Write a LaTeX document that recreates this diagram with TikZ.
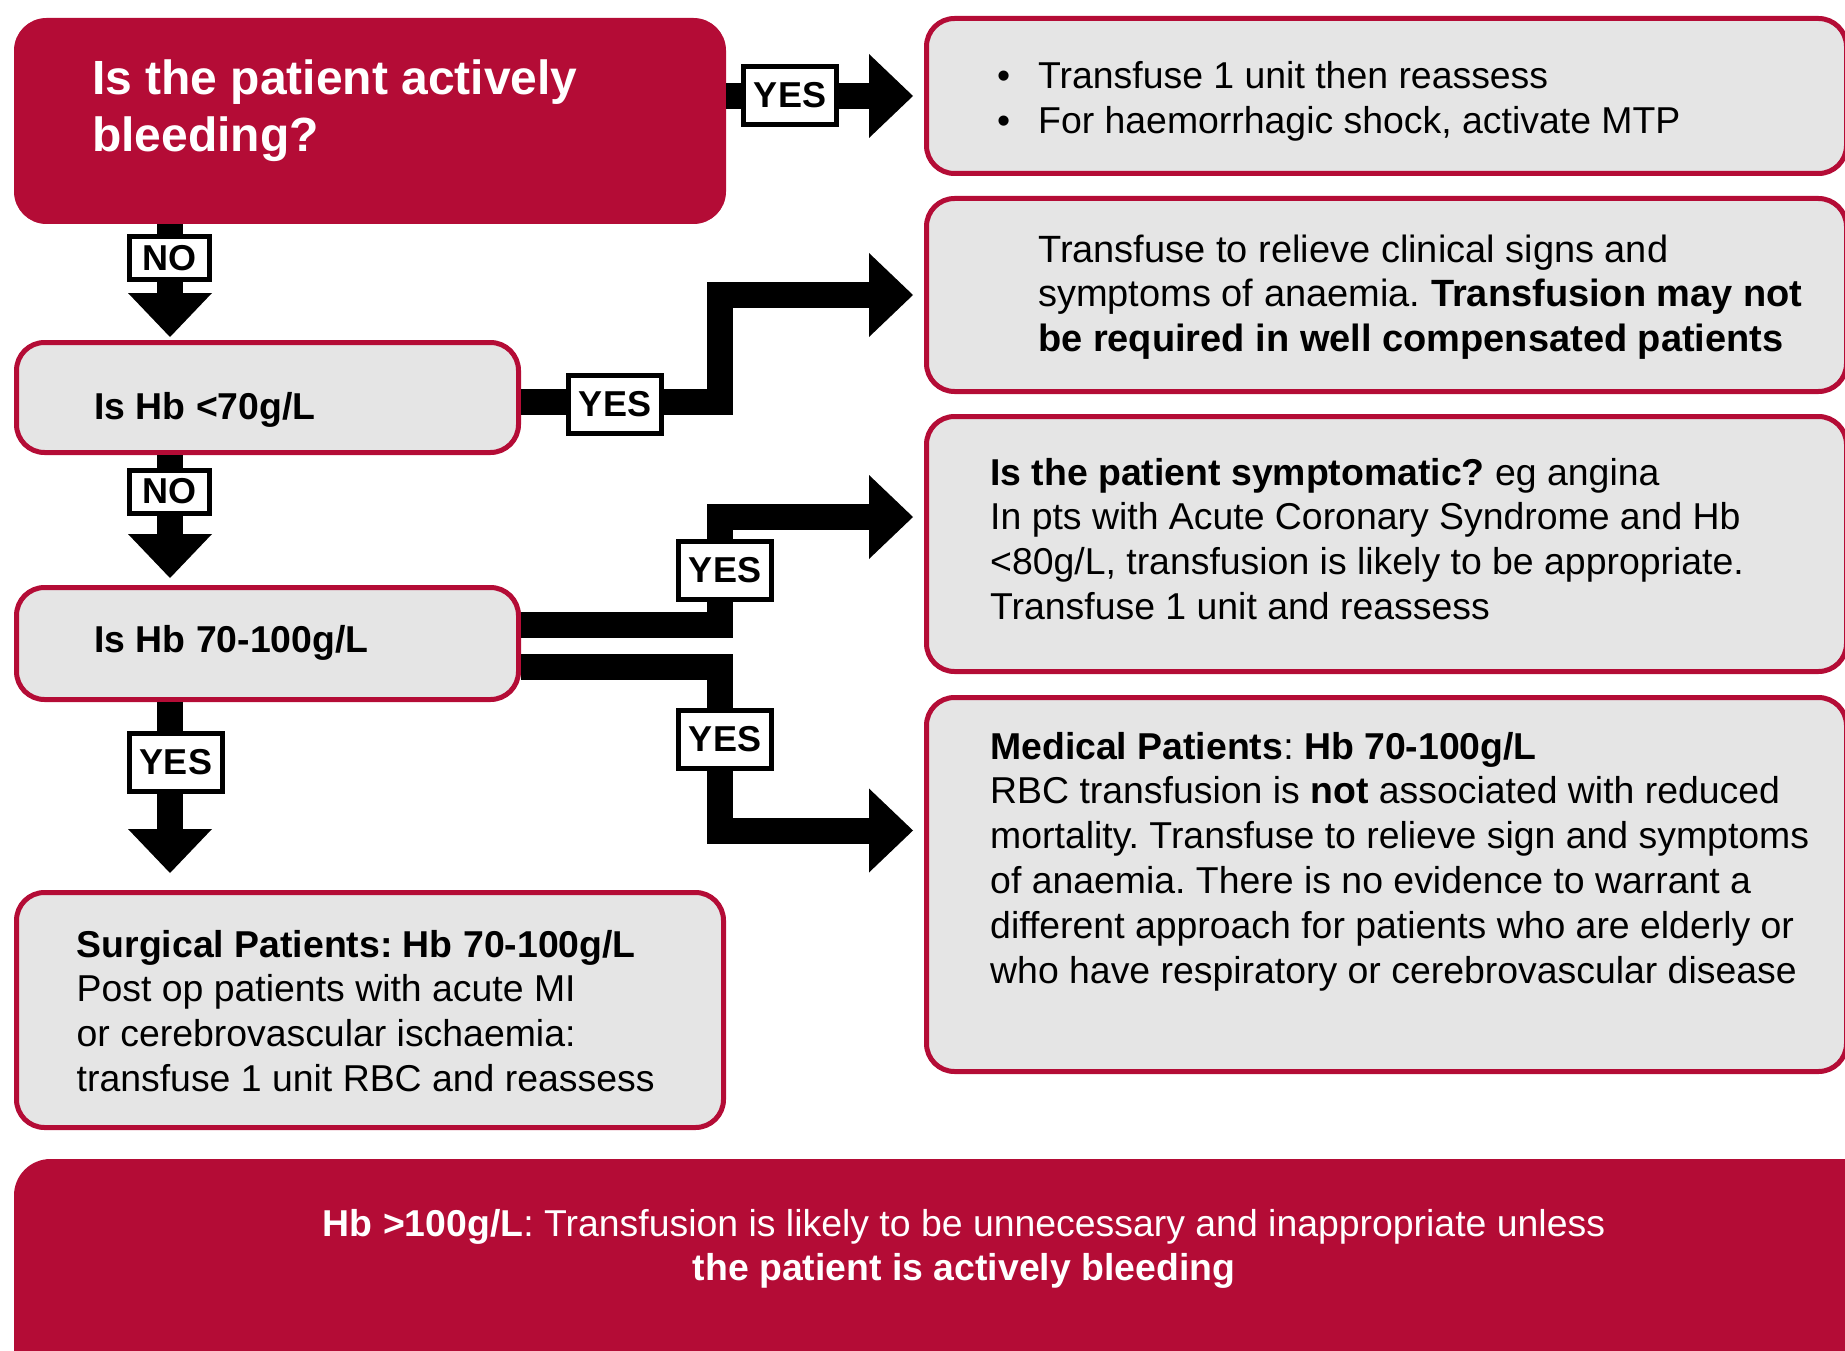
\documentclass[tikz,border=0pt]{standalone}
\usepackage{fontspec}
\setmainfont{Liberation Sans}
\usetikzlibrary{arrows.meta,calc}
\definecolor{crim}{RGB}{180,12,54}
\definecolor{boxgray}{RGB}{229,229,229}
\newcommand{\mlines}[1]{\begin{tabular}[t]{@{}l@{}}#1\end{tabular}}
\frenchspacing
\begin{document}
\begin{tikzpicture}[x=1pt,y=-1pt,
  box/.style={draw=crim, line width=5pt, fill=boxgray, rounded corners=28pt, inner sep=0pt},
  redbox/.style={draw=crim, line width=5pt, fill=crim, rounded corners=30pt, inner sep=0pt},
  blk/.style={line width=26pt, -{Triangle[length=44pt,width=84pt,line width=0pt]}},
  lab/.style={draw=black, line width=5pt, fill=white, inner sep=0pt, font=\fontsize{36}{40}\selectfont\bfseries},
  yeslab/.style={lab, minimum width=93pt, minimum height=58pt},
  nolab/.style={lab, minimum width=80pt, minimum height=43pt},
  txt/.style={anchor=base west, inner sep=0pt, font=\fontsize{37.4}{44.8}\selectfont\frenchspacing},
  btxt/.style={txt, font=\fontsize{37.4}{44.8}\selectfont\bfseries},
]
\useasboundingbox (0,0) rectangle (1845,1351);
\clip (0,0) rectangle (1845,1351);

% boxes
\node[redbox, minimum width=707pt, minimum height=201pt] (q1) at (370,121) {};
\node[box, minimum width=920pt, minimum height=155pt] (r1) at (1386.5,96) {};
\node[box, minimum width=920pt, minimum height=193pt] (r2) at (1386.5,295) {};
\node[box, minimum width=920pt, minimum height=255pt] (r3) at (1386.5,544) {};
\node[box, minimum width=920pt, minimum height=374pt] (r4) at (1386.5,884.5) {};
\node[box, minimum width=502pt, minimum height=110pt] (h1) at (267.5,397.5) {};
\node[box, minimum width=502pt, minimum height=112pt] (h2) at (267.5,643.5) {};
\node[box, minimum width=707pt, minimum height=235pt] (s1) at (370,1010) {};
\node[redbox, rounded corners=34pt, minimum width=1880pt, minimum height=240pt] (b1) at (956.5,1281.5) {};

% helper coordinates
\coordinate (colx) at (170,0);
\coordinate (vx) at (720,0);

% connectors
\draw[blk] (q1.east |- r1.west) -- ($(r1.west)+(-11,0)$);
\draw[blk] (q1.south -| colx) -- ($(colx |- h1.north)+(0,-3)$);
\draw[blk] ($(h1.east)+(0,4.5)$) -| (vx |- r2.west) -- ($(r2.west)+(-11,0)$);
\draw[blk] (h1.south -| colx) -- ($(colx |- h2.north)+(0,-7)$);
\draw[blk] ($(h2.east)+(0,-18.5)$) -| ($(vx |- r3.west)+(0,-27)$) -- ($(r3.west)+(-11,-27)$);
\draw[blk] ($(h2.east)+(0,23)$) -| ($(vx |- r4.west)+(0,-54)$) -- ($(r4.west)+(-11,-54)$);
\draw[blk] (h2.south -| colx) -- ($(colx |- s1.north)+(0,-17)$);

% labels
\node[yeslab] (y1) at (790,95.5) {YES};
\node[nolab] (n1) at (169.5,258) {NO};
\node[yeslab] (y2) at (615,404) {YES};
\node[nolab] (n2) at (169.5,491.5) {NO};
\node[yeslab] (y3) at (725,570.5) {YES};
\node[yeslab] (y4) at (725,739.5) {YES};
\node[yeslab] (y5) at (176,762.5) {YES};

% texts
\node[txt, text=white, font=\fontsize{48}{57}\selectfont\bfseries] (tq1) at (92,95) {\mlines{Is the patient actively\\bleeding?}};
\node[txt] (tr1) at (997,89) {\mlines{\makebox[41pt][l]{•}Transfuse 1 unit then reassess\\\makebox[41pt][l]{•}For haemorrhagic shock, activate MTP}};
\node[txt, font=\fontsize{38}{44.8}\selectfont\frenchspacing] (tr2) at (1038,262) {\mlines{Transfuse to relieve clinical signs and\\symptoms of anaemia. \textbf{Transfusion may not}\\\textbf{be required in well compensated patients}}};
\node[txt] (tr3) at (990,485) {\mlines{\textbf{Is the patient symptomatic?} eg angina\\In pts with Acute Coronary Syndrome and Hb\\<80g/L, transfusion is likely to be appropriate.\\Transfuse 1 unit and reassess}};
\node[txt] (tr4) at (990,759) {\mlines{\textbf{Medical Patients}: \textbf{Hb 70-100g/L}\\RBC transfusion is \textbf{not} associated with reduced\\mortality. Transfuse to relieve sign and symptoms\\of anaemia. There is no evidence to warrant a\\different approach for patients who are elderly or\\who have respiratory or cerebrovascular disease}};
\node[btxt] (th1) at (94,419) {Is Hb <70g/L};
\node[btxt] (th2) at (94,652) {Is Hb 70-100g/L};
\node[txt] (ts1) at (76.5,957) {\mlines{\textbf{Surgical Patients: Hb 70-100g/L}\\Post op patients with acute MI\\or cerebrovascular ischaemia:\\transfuse 1 unit RBC and reassess}};
\node[txt, anchor=base, text=white] (tb1) at (964,1236) {\begin{tabular}[t]{@{}c@{}}\textbf{Hb >100g/L}: Transfusion is likely to be unnecessary and inappropriate unless\\\textbf{the patient is actively bleeding}\end{tabular}};
\end{tikzpicture}
\end{document}
